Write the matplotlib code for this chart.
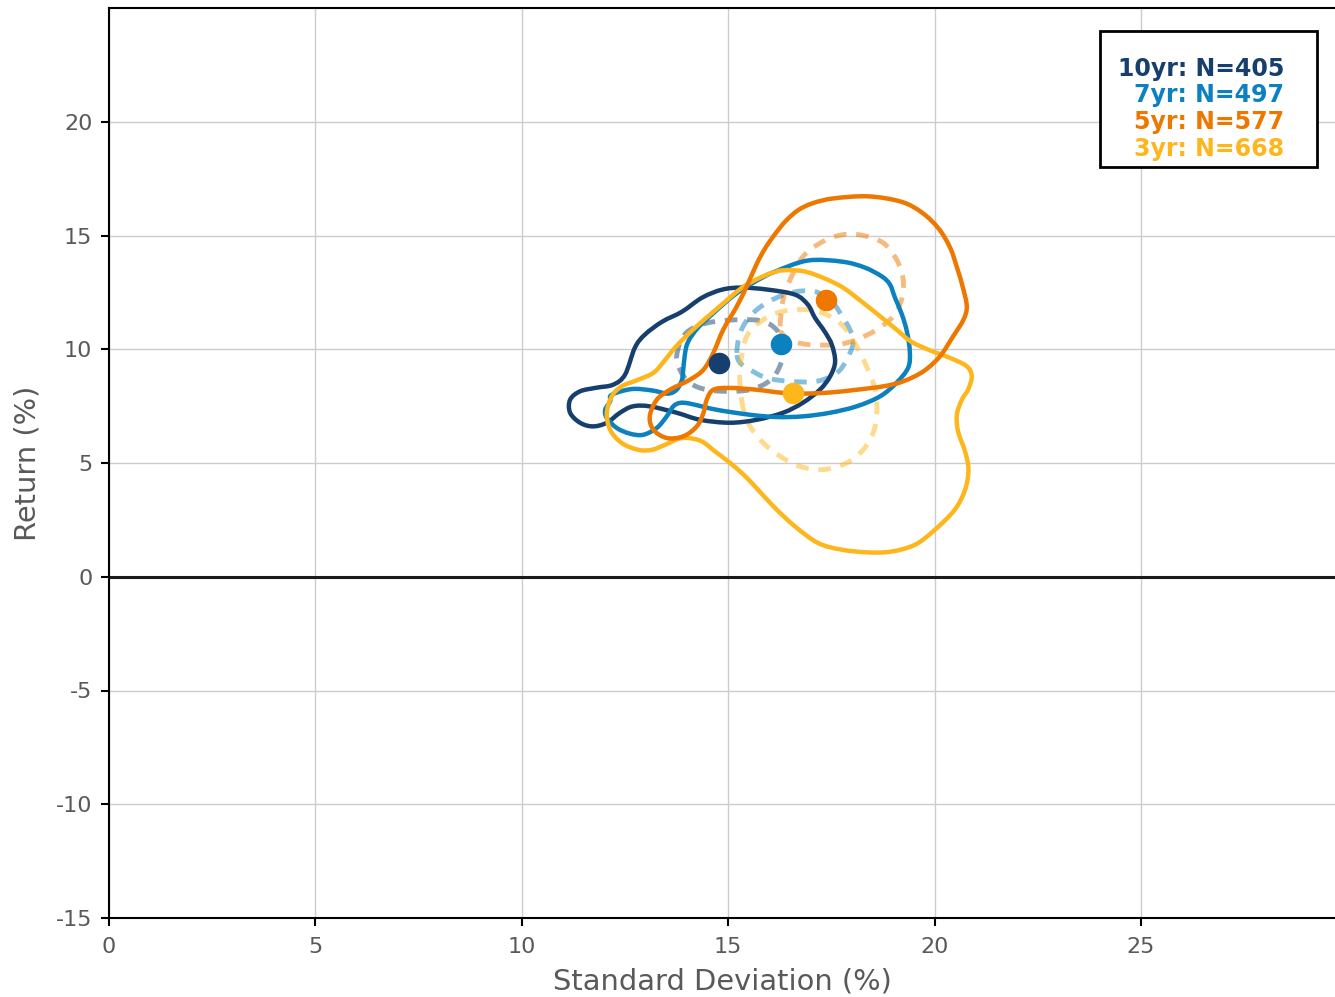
import matplotlib
matplotlib.use("Agg")
import matplotlib.pyplot as plt
import numpy as np
from matplotlib.path import Path
from matplotlib.patches import PathPatch, Rectangle

# ---- data -------------------------------------------------------------
horizons = ["10yr", "7yr", "5yr", "3yr"]
counts = [405, 497, 577, 668]
colors = ["#173f6e", "#0b81c0", "#ee7700", "#fdb61c"]

# mean (std dev, return) per horizon
mean_sd = [14.78, 16.28, 17.37, 16.57]
mean_ret = [9.41, 10.25, 12.18, 8.09]

# outer density contour (solid), x = std dev, y = return
outer_10yr_x = [14.85, 15.33, 15.96, 16.62, 16.93, 17.10, 17.34, 17.51, 17.59, 17.47, 17.22, 16.81,
                16.33, 15.69, 15.04, 14.32, 13.75, 13.10, 12.69, 12.38, 12.06, 11.72, 11.41, 11.17,
                11.17, 11.41, 11.81, 12.21, 12.50, 12.74, 12.98, 13.40, 13.88, 14.37]
outer_10yr_y = [12.62, 12.71, 12.62, 12.40, 11.96, 11.39, 10.77, 10.20, 9.45, 8.81, 8.22, 7.65,
                7.21, 6.90, 6.77, 6.90, 7.21, 7.49, 7.49, 7.21, 6.77, 6.61, 6.77, 7.21,
                7.78, 8.15, 8.31, 8.44, 8.88, 10.07, 10.64, 11.21, 11.65, 12.27]

outer_7yr_x = [12.18, 12.66, 13.15, 13.54, 13.75, 13.87, 13.90, 13.95, 14.03, 14.27, 14.68, 15.16,
               15.65, 16.13, 16.93, 17.76, 18.31, 18.73, 18.92, 19.04, 19.21, 19.33, 19.40, 19.36,
               19.08, 18.68, 18.11, 17.47, 16.81, 16.17, 15.53, 14.72, 14.07, 13.83, 13.67, 13.51,
               13.27, 12.94, 12.62, 12.30, 12.06, 12.02, 12.14]
outer_7yr_y = [8.00, 8.25, 8.19, 8.05, 8.22, 8.60, 8.88, 9.76, 10.33, 10.95, 11.65, 12.40,
               12.97, 13.41, 13.90, 13.85, 13.59, 13.19, 12.84, 12.27, 11.52, 10.77, 9.89, 9.19,
               8.53, 7.93, 7.49, 7.21, 7.05, 7.02, 7.12, 7.34, 7.61, 7.64, 7.49, 7.05,
               6.54, 6.24, 6.29, 6.54, 6.98, 7.34, 7.71]

outer_5yr_x = [16.15, 15.90, 15.69, 15.45, 15.21, 14.88, 14.64, 14.40, 14.07, 13.59, 13.27, 13.10,
               13.19, 13.51, 13.91, 14.24, 14.40, 14.48, 14.64, 15.04, 15.69, 16.33, 16.82, 17.47,
               18.11, 18.76, 19.24, 19.73, 20.13, 20.45, 20.70, 20.78, 20.68, 20.55, 20.38, 20.10,
               19.70, 19.20, 18.40, 17.55, 17.05, 16.70, 16.40]
outer_5yr_y = [15.10, 14.45, 13.75, 12.77, 11.89, 10.86, 9.84, 9.10, 8.66, 8.22, 7.78, 7.05,
               6.46, 6.10, 6.17, 6.61, 7.20, 7.78, 8.22, 8.30, 8.22, 8.08, 8.05, 8.10,
               8.22, 8.37, 8.59, 9.03, 9.69, 10.57, 11.30, 11.89, 12.75, 13.55, 14.45, 15.30,
               16.00, 16.48, 16.72, 16.63, 16.42, 16.12, 15.65]

outer_3yr_x = [16.33, 16.82, 17.30, 17.79, 18.27, 18.68, 19.08, 19.42, 19.85, 20.37, 20.78, 20.90,
               20.81, 20.66, 20.54, 20.57, 20.74, 20.82, 20.74, 20.49, 20.01, 19.53, 18.96, 18.39,
               17.75, 17.18, 16.62, 16.13, 15.65, 15.33, 15.00, 14.68, 14.36, 14.03, 13.79, 13.47,
               13.15, 12.82, 12.42, 12.14, 12.06, 12.18, 12.42, 12.82, 13.20, 13.48, 13.75, 14.20,
               14.76, 15.33, 15.72, 16.05]
outer_3yr_y = [13.47, 13.43, 13.14, 12.70, 12.04, 11.45, 10.86, 10.35, 9.98, 9.62, 9.25, 8.80,
               8.22, 7.78, 7.12, 6.38, 5.50, 4.71, 3.83, 2.95, 2.07, 1.41, 1.11, 1.07,
               1.19, 1.48, 2.21, 3.03, 3.97, 4.56, 5.07, 5.51, 5.95, 6.10, 6.06, 5.80,
               5.58, 5.58, 5.88, 6.46, 7.20, 7.93, 8.37, 8.66, 8.98, 9.55, 10.15, 10.95,
               11.83, 12.70, 13.10, 13.35]

# inner density contour (dashed)
inner_10yr_x = [13.75, 13.91, 14.24, 14.72, 15.37, 15.85, 16.17, 16.33, 16.33, 16.17, 15.93, 15.53,
                15.04, 14.48, 14.07, 13.83]
inner_10yr_y = [9.69, 10.57, 11.01, 11.23, 11.30, 11.23, 10.86, 10.29, 9.69, 8.96, 8.52, 8.22,
                8.15, 8.22, 8.52, 9.10]

inner_7yr_x = [15.21, 15.29, 15.53, 15.93, 16.50, 17.06, 17.47, 17.71, 17.95, 18.03, 17.87, 17.63,
               17.14, 16.50, 15.93, 15.53, 15.29]
inner_7yr_y = [9.84, 10.72, 11.45, 12.04, 12.48, 12.55, 12.18, 11.60, 10.86, 10.28, 9.54, 8.96,
               8.59, 8.59, 8.74, 9.10, 9.40]

inner_5yr_x = [16.26, 16.33, 16.50, 16.82, 17.30, 17.79, 18.27, 18.76, 19.08, 19.24, 19.20, 19.00,
               18.60, 18.11, 17.63, 16.98, 16.57, 16.33]
inner_5yr_y = [11.01, 12.18, 13.06, 14.09, 14.74, 15.04, 15.00, 14.67, 13.94, 13.06, 12.18, 11.45,
               10.86, 10.42, 10.20, 10.20, 10.35, 10.64]

inner_3yr_x = [15.37, 15.29, 15.29, 15.45, 15.85, 16.33, 16.90, 17.39, 17.79, 18.11, 18.35, 18.56,
               18.60, 18.51, 18.27, 17.87, 17.30, 16.74, 16.26, 15.85, 15.53]
inner_3yr_y = [7.34, 8.37, 9.25, 10.57, 11.30, 11.67, 11.74, 11.52, 11.01, 10.13, 9.25, 8.22,
               7.20, 6.32, 5.58, 5.00, 4.71, 4.85, 5.29, 5.88, 6.61]

outer_x = [outer_10yr_x, outer_7yr_x, outer_5yr_x, outer_3yr_x]
outer_y = [outer_10yr_y, outer_7yr_y, outer_5yr_y, outer_3yr_y]
inner_x = [inner_10yr_x, inner_7yr_x, inner_5yr_x, inner_3yr_x]
inner_y = [inner_10yr_y, inner_7yr_y, inner_5yr_y, inner_3yr_y]

x_ticks = [0, 5, 10, 15, 20, 25]
y_ticks = [-15, -10, -5, 0, 5, 10, 15, 20]


def closed_smooth_path(xs, ys):
    """Closed Catmull-Rom curve through the points, as cubic Bezier segments."""
    p = np.column_stack([xs, ys]).astype(float)
    n = len(p)
    verts = [p[0]]
    codes = [Path.MOVETO]
    for i in range(n):
        p0, p1, p2, p3 = p[i - 1], p[i], p[(i + 1) % n], p[(i + 2) % n]
        c1 = p1 + (p2 - p0) / 6.0
        c2 = p2 - (p3 - p1) / 6.0
        verts += [c1, c2, p2]
        codes += [Path.CURVE4] * 3
    return Path(np.array(verts), codes)


# ---- figure -------------------------------------------------------------
fig = plt.figure(figsize=(13.35, 9.97), dpi=100)
ax = fig.add_axes([109 / 1335, 1 - 918 / 997, (1335 - 109) / 1335, (918 - 8) / 997])

ax.set_xlim(0, 29.7)
ax.set_ylim(-15, 25)
ax.set_xticks(x_ticks)
ax.set_yticks(y_ticks)
ax.set_xticklabels([str(v) for v in x_ticks])
ax.set_yticklabels([str(v) for v in y_ticks])

ax.grid(True, color="#cccccc", linewidth=1.0)
ax.set_axisbelow(True)
ax.axhline(0, color="#1a1a1a", linewidth=2.2, zorder=1.5)

for side in ["left", "bottom", "top"]:
    ax.spines[side].set_color("black")
    ax.spines[side].set_linewidth(1.5)
ax.spines["right"].set_visible(False)

ax.tick_params(axis="both", direction="out", length=6, width=1.5, color="black",
               labelsize=16, labelcolor="#595959")
ax.tick_params(axis="x", pad=8)
ax.tick_params(axis="y", pad=6)
ax.set_xlabel("Standard Deviation (%)", fontsize=20.8, color="#595959", labelpad=7)
ax.set_ylabel("Return (%)", fontsize=20.8, color="#595959", labelpad=10)

# draw order: navy, blue, yellow, orange (orange on top)
draw_order = [0, 1, 3, 2]
for k in draw_order:
    inner = PathPatch(closed_smooth_path(inner_x[k], inner_y[k]), fill=False,
                      edgecolor=colors[k], linewidth=3.5, linestyle=(0, (2.6, 2.0)),
                      alpha=0.5, zorder=2)
    ax.add_patch(inner)
for k in draw_order:
    outer = PathPatch(closed_smooth_path(outer_x[k], outer_y[k]), fill=False,
                      edgecolor=colors[k], linewidth=3.2, zorder=3)
    ax.add_patch(outer)
for k in range(len(horizons)):
    ax.plot(mean_sd[k], mean_ret[k], "o", color=colors[k], markersize=14.5, zorder=4)

# annotation box with sample counts
ax.add_patch(Rectangle((0.8083, 0.8253), 0.9853 - 0.8083, 0.9747 - 0.8253,
                       transform=ax.transAxes, facecolor="white", edgecolor="black",
                       linewidth=2.0, zorder=5))
label_y = [0.9335, 0.9040, 0.8743, 0.8447]
for k in range(len(horizons)):
    ax.text(0.9584, label_y[k], f"{horizons[k]}: N={counts[k]}", transform=ax.transAxes,
            ha="right", va="center", fontsize=17, fontweight="bold", color=colors[k], zorder=6)

fig.savefig("out.png", dpi=100)
